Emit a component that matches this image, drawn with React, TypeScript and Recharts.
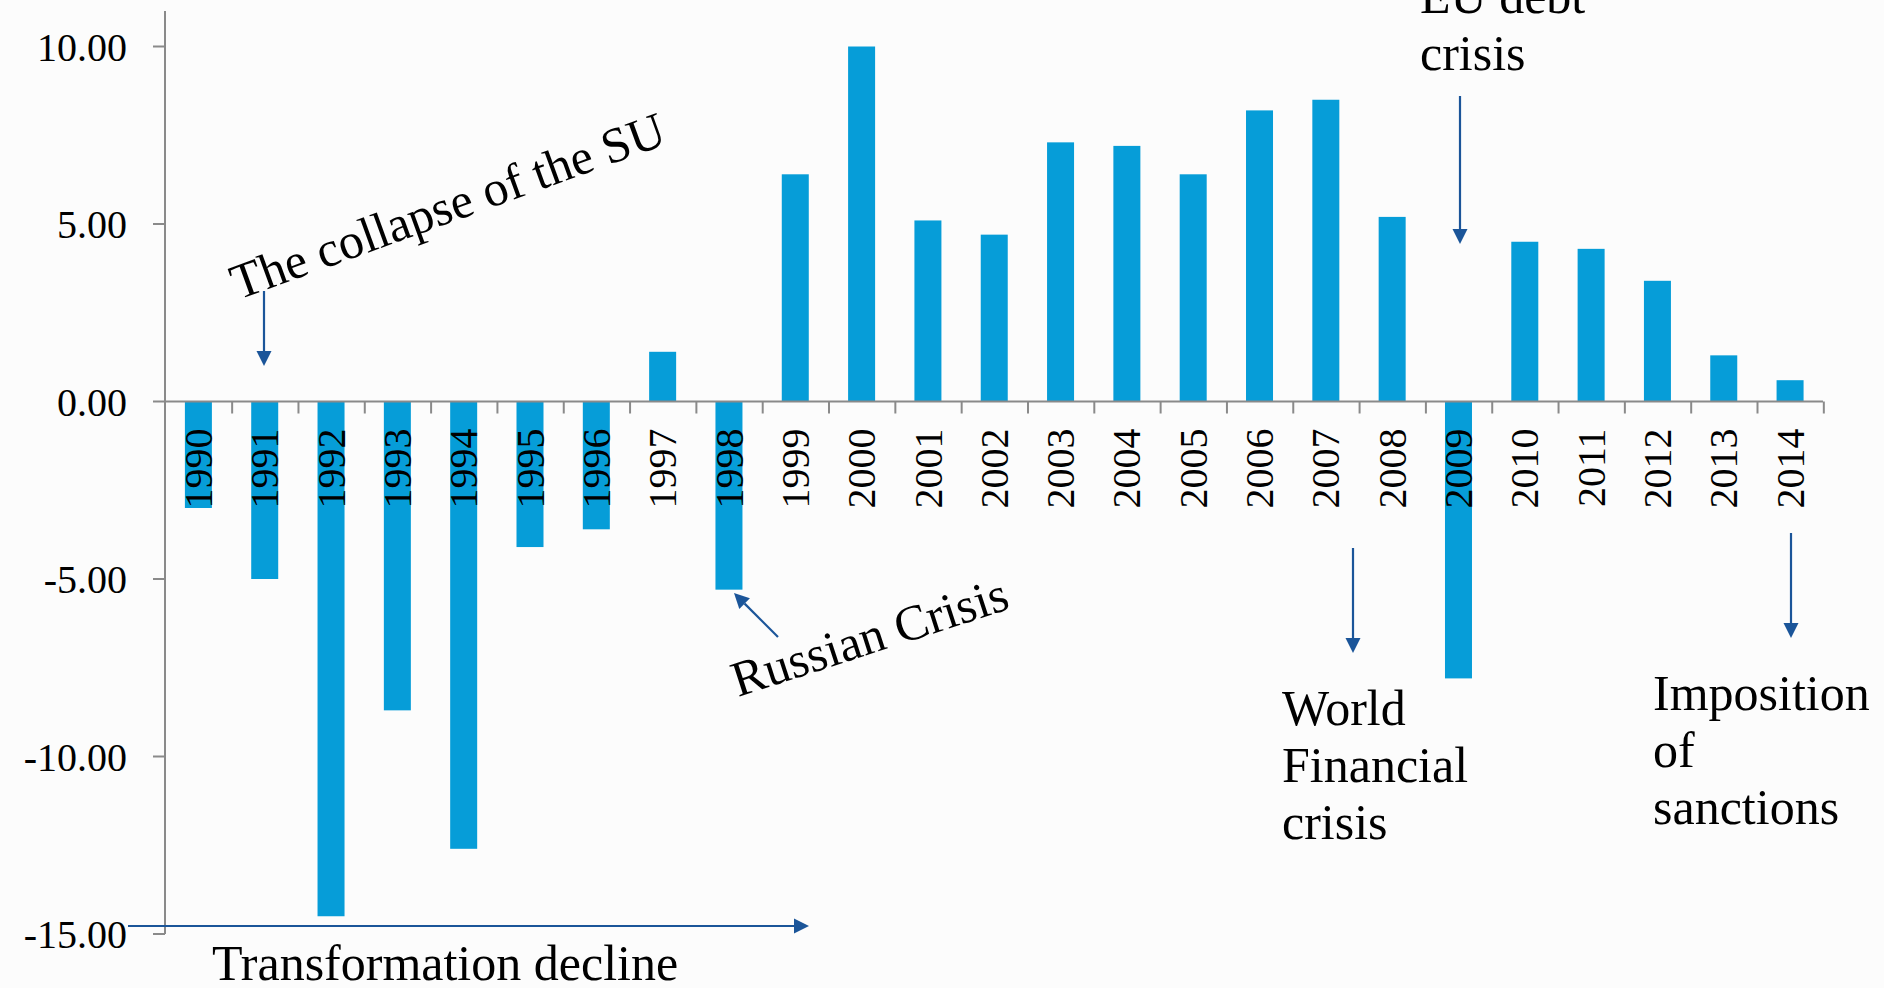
import React from 'react';
import { BarChart, Bar, XAxis, YAxis, ReferenceLine } from 'recharts';

const years = [
  '1990', '1991', '1992', '1993', '1994', '1995', '1996', '1997', '1998', '1999',
  '2000', '2001', '2002', '2003', '2004', '2005', '2006', '2007', '2008', '2009',
  '2010', '2011', '2012', '2013', '2014',
];
const growth = [
  -3.0, -5.0, -14.5, -8.7, -12.6, -4.1, -3.6, 1.4, -5.3, 6.4,
  10.0, 5.1, 4.7, 7.3, 7.2, 6.4, 8.2, 8.5, 5.2, -7.8,
  4.5, 4.3, 3.4, 1.3, 0.6,
];
const yTicks = [-15, -10, -5, 0, 5, 10];

const data = years.map((year, i) => ({ year, growth: growth[i] }));

const W = 1884;
const H = 988;
const GAP = 0.3;
const BAR_COLOR = '#069DD8';
const AXIS_COLOR = '#8A8A8A';
const ARROW_COLOR = '#1B5599';
const SERIF = '"Liberation Serif", "Times New Roman", serif';

function BarWithLabel(props: any) {
  const { x, y, width, height, payload } = props;
  const v = payload.growth;
  let zeroY: number;
  if (v >= 0) zeroY = y + height;
  else zeroY = height < 0 ? y + height : y;
  const top = Math.min(y, y + height);
  const h = Math.abs(height);
  const cx = x + width / 2;
  const band = width / (1 - 2 * GAP);
  const right = cx + band / 2;
  return (
    <g>
      <rect x={x} y={top} width={width} height={h} fill={BAR_COLOR} />
      <line x1={right} x2={right} y1={zeroY} y2={zeroY + 12} stroke={AXIS_COLOR} strokeWidth={2} />
      <text
        transform={`translate(${cx},${zeroY + 27}) rotate(-90)`}
        textAnchor="end"
        dy="0.34em"
        fontFamily={SERIF}
        fontSize={40}
        fill="#000"
      >
        {payload.year}
      </text>
    </g>
  );
}

function Arrow({ x1, y1, x2, y2 }: { x1: number; y1: number; x2: number; y2: number }) {
  const dx = x2 - x1;
  const dy = y2 - y1;
  const len = Math.sqrt(dx * dx + dy * dy);
  const ux = dx / len;
  const uy = dy / len;
  const hl = 15;
  const hw = 7.5;
  const bx = x2 - ux * hl;
  const by = y2 - uy * hl;
  const px = -uy;
  const py = ux;
  return (
    <g>
      <line x1={x1} y1={y1} x2={bx} y2={by} stroke={ARROW_COLOR} strokeWidth={2.2} />
      <polygon
        points={`${x2},${y2} ${bx + px * hw},${by + py * hw} ${bx - px * hw},${by - py * hw}`}
        fill={ARROW_COLOR}
      />
    </g>
  );
}

function MultiLine({ x, y, lines, lh }: { x: number; y: number; lines: string[]; lh: number }) {
  return (
    <text x={x} y={y} fontFamily={SERIF} fontSize={50} fill="#000">
      {lines.map((l, i) => (
        <tspan key={i} x={x} dy={i === 0 ? 0 : lh}>
          {l}
        </tspan>
      ))}
    </text>
  );
}

export default function App() {
  return (
    <div style={{ position: 'absolute', left: 0, top: 0, width: W, height: H, background: '#FCFCFC' }}>
      <BarChart
        width={W}
        height={H}
        data={data}
        margin={{ top: 11, right: 61, bottom: 54, left: 0 }}
        barCategoryGap={`${GAP * 100}%`}
      >
        <XAxis dataKey="year" hide />
        <YAxis
          width={165}
          domain={[-15, 11]}
          ticks={yTicks}
          allowDataOverflow
          tickFormatter={(v: number) => v.toFixed(2)}
          axisLine={{ stroke: AXIS_COLOR, strokeWidth: 2 }}
          tickLine={{ stroke: AXIS_COLOR, strokeWidth: 2 }}
          tickSize={12}
          tickMargin={26}
          tick={{ fontSize: 40, fill: '#000', fontFamily: SERIF }}
        />
        <ReferenceLine y={0} stroke={AXIS_COLOR} strokeWidth={2} />
        <Bar dataKey="growth" isAnimationActive={false} shape={BarWithLabel} />
      </BarChart>
      <svg
        width={W}
        height={H}
        style={{ position: 'absolute', left: 0, top: 0, pointerEvents: 'none' }}
      >
        <text
          transform="translate(238,300) rotate(-20)"
          fontFamily={SERIF}
          fontSize={50}
          fill="#000"
        >
          The collapse of the SU
        </text>
        <Arrow x1={264} y1={291} x2={264} y2={366} />

        <MultiLine x={1420} y={13} lines={['EU debt', 'crisis']} lh={57} />
        <Arrow x1={1460} y1={96} x2={1460} y2={244} />

        <text
          transform="translate(738,697) rotate(-18)"
          fontFamily={SERIF}
          fontSize={50}
          fill="#000"
        >
          Russian Crisis
        </text>
        <Arrow x1={778} y1={637} x2={734} y2={593} />

        <MultiLine x={1282} y={725} lines={['World', 'Financial', 'crisis']} lh={57} />
        <Arrow x1={1353} y1={548} x2={1353} y2={653} />

        <MultiLine x={1653} y={710} lines={['Imposition', 'of', 'sanctions']} lh={57} />
        <Arrow x1={1791} y1={533} x2={1791} y2={638} />

        <Arrow x1={128} y1={926} x2={809} y2={926} />
        <text x={212} y={980} fontFamily={SERIF} fontSize={50} fill="#000">
          Transformation decline
        </text>
      </svg>
    </div>
  );
}
